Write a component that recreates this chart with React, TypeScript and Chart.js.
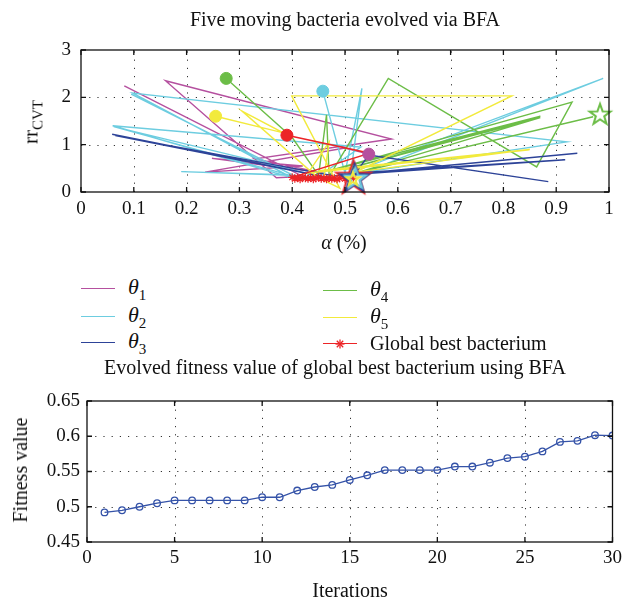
import { useEffect, useRef } from "react";
import { Chart, registerables } from "chart.js";

Chart.register(...registerables);

const SERIF = "'Liberation Serif', 'Times New Roman', serif";

// ---------- top chart data ----------
const alphaTicks = [0, 0.1, 0.2, 0.3, 0.4, 0.5, 0.6, 0.7, 0.8, 0.9, 1];
const rrTicks = [0, 1, 2, 3];

const theta1: [number, number][] = [
  [0.082, 2.24], [0.42, 0.33], [0.37, 0.3], [0.16, 2.35], [0.588, 1.12], [0.33, 0.7],
  [0.46, 0.4], [0.248, 0.71], [0.42, 0.55], [0.235, 0.42], [0.5, 0.93], [0.545, 0.8],
];
const theta2: [number, number][] = [
  [0.458, 2.13], [0.5, 0.4], [0.532, 2.19], [0.51, 0.3], [0.989, 2.4], [0.5, 0.36],
  [0.92, 1.06], [0.098, 2.09], [0.4, 0.3], [0.06, 1.4], [0.53, 0.95], [0.45, 0.33],
  [0.19, 0.43], [0.4, 0.36], [0.095, 2.07], [0.41, 0.31], [0.062, 1.38], [0.46, 0.31],
];
const theta3: [number, number][] = [
  [0.059, 1.22], [0.47, 0.3], [0.065, 1.19], [0.48, 0.34], [0.94, 0.82], [0.5, 0.36],
  [0.917, 0.68], [0.52, 0.4], [0.545, 0.78], [0.885, 0.22],
];
const theta4: [number, number][] = [
  [0.275, 2.4], [0.4, 1.15], [0.45, 0.35], [0.465, 1.63], [0.47, 0.33], [0.582, 2.4],
  [0.863, 0.53], [0.93, 1.9], [0.47, 0.45], [0.87, 1.6], [0.5, 0.48], [0.87, 1.57],
  [0.52, 0.4], [0.97, 1.59],
];
const theta5: [number, number][] = [
  [0.255, 1.6], [0.383, 1.25], [0.305, 1.71], [0.447, 0.32], [0.49, 0.08], [0.399, 2.03],
  [0.816, 2.03], [0.52, 0.42], [0.85, 0.9], [0.45, 0.45], [0.85, 0.89], [0.43, 0.4],
  [0.47, 1.06], [0.46, 0.3],
];
const bestPath: [number, number][] = [
  [0.39, 1.2], [0.547, 0.82], [0.4, 0.31], [0.405, 0.28], [0.41, 0.3], [0.415, 0.27],
  [0.42, 0.31], [0.425, 0.29], [0.43, 0.28], [0.435, 0.3], [0.44, 0.27], [0.445, 0.29],
  [0.45, 0.31], [0.455, 0.28], [0.46, 0.29], [0.465, 0.27], [0.47, 0.3], [0.475, 0.28],
  [0.48, 0.29], [0.485, 0.27], [0.49, 0.29], [0.5, 0.28], [0.516, 0.29],
];
const startPoints: [number, number][] = [
  [0.545, 0.8], [0.458, 2.13], [0.275, 2.4], [0.255, 1.6], [0.39, 1.2],
];
const finalPoints: [number, number][] = [
  [0.516, 0.29], [0.518, 0.28], [0.52, 0.28], [0.515, 0.27], [0.983, 1.63],
];

// ---------- bottom chart data ----------
const iterations = [1, 2, 3, 4, 5, 6, 7, 8, 9, 10, 11, 12, 13, 14, 15, 16, 17, 18, 19, 20, 21, 22, 23, 24, 25, 26, 27, 28, 29, 30];
const fitness = [
  0.492, 0.495, 0.5, 0.505, 0.509, 0.509, 0.509, 0.509, 0.509, 0.5135,
  0.5135, 0.523, 0.528, 0.531, 0.538, 0.5446, 0.552, 0.552, 0.552, 0.552,
  0.557, 0.557, 0.5625, 0.569, 0.571, 0.5785, 0.592, 0.5935, 0.6015, 0.601,
];
const iterTicks = [0, 5, 10, 15, 20, 25, 30];
const fitTicks = [0.45, 0.5, 0.55, 0.6, 0.65];

// ---------- styles ----------
const C1 = "#b5509f";
const C2 = "#6dcde0";
const C3 = "#2d4398";
const C4 = "#6cbd47";
const C5 = "#f2ea3c";
const CR = "#ec2427";
const CFIT = "#3553a8";
const startColors = [C1, C2, C4, C5, CR];
const starStyles = [
  { color: CR, r: 18 },
  { color: C3, r: 15 },
  { color: C2, r: 11 },
  { color: C5, r: 7 },
  { color: C4, r: 11 },
];

const toXY = (arr: [number, number][]) => arr.map(([x, y]) => ({ x, y }));
const fmt = (v: number) => String(Math.round(v * 100) / 100);

function makeStar(r: number, color: string, lw: number): HTMLCanvasElement {
  const size = Math.ceil(2 * r + lw * 2 + 4);
  const c = document.createElement("canvas");
  c.width = size;
  c.height = size;
  const g = c.getContext("2d")!;
  const cx = size / 2;
  const cy = size / 2;
  g.beginPath();
  for (let i = 0; i < 10; i++) {
    const ang = -Math.PI / 2 + (i * Math.PI) / 5;
    const rad = i % 2 === 0 ? r : r * 0.4;
    g.lineTo(cx + rad * Math.cos(ang), cy + rad * Math.sin(ang));
  }
  g.closePath();
  g.strokeStyle = color;
  g.lineWidth = lw;
  g.lineJoin = "miter";
  g.stroke();
  return c;
}

const framePlugin = {
  id: "frame",
  beforeDatasetsDraw(chart: any) {
    const { ctx, chartArea: a, scales } = chart;
    ctx.save();
    ctx.strokeStyle = "#333";
    ctx.lineWidth = 1;
    ctx.setLineDash([1.2, 7]);
    scales.x.ticks.forEach((t: any) => {
      const px = Math.round(scales.x.getPixelForValue(t.value)) + 0.5;
      if (px <= a.left + 2 || px >= a.right - 2) return;
      ctx.beginPath();
      ctx.moveTo(px, a.bottom);
      ctx.lineTo(px, a.top);
      ctx.stroke();
    });
    scales.y.ticks.forEach((t: any) => {
      const py = Math.round(scales.y.getPixelForValue(t.value)) + 0.5;
      if (py <= a.top + 2 || py >= a.bottom - 2) return;
      ctx.beginPath();
      ctx.moveTo(a.left, py);
      ctx.lineTo(a.right, py);
      ctx.stroke();
    });
    ctx.restore();
  },
  afterDatasetsDraw(chart: any) {
    const { ctx, chartArea: a, scales } = chart;
    ctx.save();
    ctx.strokeStyle = "#111";
    ctx.lineWidth = 1.3;
    ctx.setLineDash([]);
    ctx.strokeRect(a.left, a.top, a.right - a.left, a.bottom - a.top);
    const L = 5;
    scales.x.ticks.forEach((t: any) => {
      const px = scales.x.getPixelForValue(t.value);
      ctx.beginPath();
      ctx.moveTo(px, a.bottom);
      ctx.lineTo(px, a.bottom - L);
      ctx.moveTo(px, a.top);
      ctx.lineTo(px, a.top + L);
      ctx.stroke();
    });
    scales.y.ticks.forEach((t: any) => {
      const py = scales.y.getPixelForValue(t.value);
      ctx.beginPath();
      ctx.moveTo(a.left, py);
      ctx.lineTo(a.left + L, py);
      ctx.moveTo(a.right, py);
      ctx.lineTo(a.right - L, py);
      ctx.stroke();
    });
    ctx.restore();
  },
};

function axis(min: number, max: number, ticks: number[], fit: (s: any) => void, pad: number) {
  return {
    type: "linear" as const,
    min,
    max,
    afterBuildTicks: (s: any) => {
      s.ticks = ticks.map((v) => ({ value: v }));
    },
    afterFit: fit,
    grid: { display: false, drawTicks: false },
    border: { display: false },
    ticks: {
      padding: pad,
      color: "#111",
      font: { family: SERIF, size: 19 },
      maxRotation: 0,
      autoSkip: false,
      callback: (v: any) => fmt(Number(v)),
    },
  };
}

const trajectory = (data: [number, number][], color: string, order: number) => ({
  data: toXY(data),
  showLine: true,
  borderColor: color,
  borderWidth: 1.4,
  pointRadius: 0,
  order,
});

function Legend() {
  const items = [
    { x: 81, y: 289, color: C1, label: "1", theta: true },
    { x: 81, y: 317, color: C2, label: "2", theta: true },
    { x: 81, y: 343, color: C3, label: "3", theta: true },
    { x: 323, y: 291, color: C4, label: "4", theta: true },
    { x: 323, y: 318, color: C5, label: "5", theta: true },
    { x: 323, y: 344, color: CR, label: "Global best bacterium", theta: false },
  ];
  return (
    <>
      {items.map((it, i) => (
        <div key={i}>
          <div
            style={{
              position: "absolute",
              left: it.x,
              top: it.y - 0.75,
              width: 34,
              height: 0,
              borderTop: `1.5px solid ${it.color}`,
            }}
          />
          {!it.theta && (
            <svg
              width={12}
              height={12}
              style={{ position: "absolute", left: it.x + 11, top: it.y - 6 }}
            >
              <g stroke={CR} strokeWidth={1.3}>
                <line x1={6} y1={1.5} x2={6} y2={10.5} />
                <line x1={1.5} y1={6} x2={10.5} y2={6} />
                <line x1={2.8} y1={2.8} x2={9.2} y2={9.2} />
                <line x1={9.2} y1={2.8} x2={2.8} y2={9.2} />
              </g>
            </svg>
          )}
          <div
            style={{
              position: "absolute",
              left: it.x + 47,
              top: it.theta ? it.y - 13 : it.y - 12,
              fontSize: it.theta ? 22 : 20,
              lineHeight: "22px",
              whiteSpace: "nowrap",
            }}
          >
            {it.theta ? (
              <>
                <span style={{ fontStyle: "italic" }}>θ</span>
                <span style={{ fontSize: 15, position: "relative", top: 6 }}>{it.label}</span>
              </>
            ) : (
              it.label
            )}
          </div>
        </div>
      ))}
    </>
  );
}

const centered = (cx: number, cy: number, size: number, rotate = false): any => ({
  position: "absolute",
  left: cx,
  top: cy,
  transform: `translate(-50%, -50%)${rotate ? " rotate(-90deg)" : ""}`,
  fontSize: size,
  lineHeight: 1,
  whiteSpace: "nowrap",
});

export default function App() {
  const topRef = useRef<HTMLCanvasElement>(null);
  const botRef = useRef<HTMLCanvasElement>(null);

  useEffect(() => {
    const stars = starStyles.map((s) => makeStar(s.r, s.color, 2));
    const top = new Chart(topRef.current!, {
      type: "scatter",
      data: {
        datasets: [
          {
            data: toXY(finalPoints),
            pointStyle: stars as any,
            pointRadius: 5,
            showLine: false,
            clip: false as any,
            order: 0,
          },
          {
            data: toXY(startPoints),
            pointStyle: "circle",
            pointRadius: 6,
            pointBackgroundColor: startColors,
            pointBorderColor: startColors,
            showLine: false,
            order: 1,
          },
          {
            data: toXY(bestPath),
            showLine: true,
            borderColor: CR,
            borderWidth: 1.5,
            pointStyle: "star",
            pointRadius: 4,
            pointBorderColor: CR,
            pointBorderWidth: 1.2,
            order: 2,
          },
          trajectory(theta5, C5, 3),
          trajectory(theta3, C3, 4),
          trajectory(theta4, C4, 5),
          trajectory(theta2, C2, 6),
          trajectory(theta1, C1, 7),
        ] as any,
      },
      options: {
        animation: false,
        responsive: false,
        maintainAspectRatio: false,
        layout: { padding: { top: 50, right: 18, left: 0, bottom: 0 } },
        plugins: { legend: { display: false }, tooltip: { enabled: false }, title: { display: false } },
        scales: {
          x: axis(0, 1, alphaTicks, (s: any) => { s.height = 40; }, 6),
          y: axis(0, 3, rrTicks, (s: any) => { s.width = 81; }, 10),
        },
      } as any,
      plugins: [framePlugin as any],
    });

    const bot = new Chart(botRef.current!, {
      type: "scatter",
      data: {
        datasets: [
          {
            data: iterations.map((x, i) => ({ x, y: fitness[i] })),
            showLine: true,
            borderColor: CFIT,
            borderWidth: 1.3,
            pointStyle: "circle",
            pointRadius: 3.3,
            pointBorderColor: CFIT,
            pointBackgroundColor: "rgba(255,255,255,0)",
            pointBorderWidth: 1.3,
          },
        ],
      },
      options: {
        animation: false,
        responsive: false,
        maintainAspectRatio: false,
        layout: { padding: { top: 21, right: 14, left: 0, bottom: 0 } },
        plugins: { legend: { display: false }, tooltip: { enabled: false }, title: { display: false } },
        scales: {
          x: axis(0, 30, iterTicks, (s: any) => { s.height = 58; }, 5),
          y: axis(0.45, 0.65, fitTicks, (s: any) => { s.width = 87; }, 7),
        },
      } as any,
      plugins: [framePlugin as any],
    });

    return () => {
      top.destroy();
      bot.destroy();
    };
  }, []);

  return (
    <div
      style={{
        position: "absolute",
        left: 0,
        top: 0,
        width: 627,
        height: 600,
        background: "#fff",
        fontFamily: SERIF,
        color: "#111",
        overflow: "hidden",
      }}
    >
      <canvas ref={topRef} width={627} height={232} style={{ position: "absolute", left: 0, top: 0 }} />
      <canvas ref={botRef} width={627} height={220} style={{ position: "absolute", left: 0, top: 380 }} />
      <div style={centered(345, 19, 20)}>Five moving bacteria evolved via BFA</div>
      <div style={centered(344, 242, 20)}>
        <span style={{ fontStyle: "italic" }}>α</span> (%)
      </div>
      <div style={centered(31, 122, 21, true)}>
        rr<span style={{ fontSize: 15, position: "relative", top: 5 }}>CVT</span>
      </div>
      <Legend />
      <div style={centered(335, 367, 20)}>Evolved fitness value of global best bacterium using BFA</div>
      <div style={centered(20, 470, 20, true)}>Fitness value</div>
      <div style={centered(350, 590, 20)}>Iterations</div>
    </div>
  );
}
